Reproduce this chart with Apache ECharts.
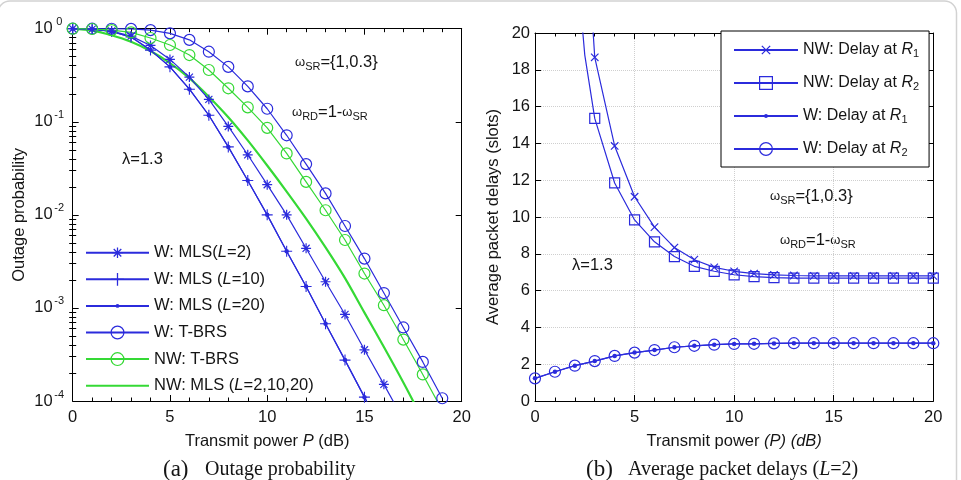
<!DOCTYPE html>
<html>
<head>
<meta charset="UTF-8" />
<title>outage probability / packet delays</title>
<script src="https://cdn.jsdelivr.net/npm/echarts@6.0.0/dist/echarts.min.js"></script>
<style>html,body{margin:0;padding:0;background:#fff;}</style>
</head>
<body>
<div id="main" style="width:961px;height:480px;"></div>
<script>
// transmit power P (dB)
var powerDb = [0,1,2,3,4,5,6,7,8,9,10,11,12,13,14,15,16,17,18,19,20];

// (a) outage probability (index = dB)
var wMls2  = [1, 0.989, 0.944, 0.832, 0.661, 0.468, 0.302, 0.174, 0.0891, 0.0442, 0.0211, 0.0100, 0.00437, 0.00191, 0.000851, 0.000355, 0.000151, 0.000063];
var wMls10 = [1, 0.989, 0.933, 0.813, 0.589, 0.389, 0.224, 0.1175, 0.0537, 0.0234, 0.0100, 0.00407, 0.00170, 0.000676, 0.000275, 0.000110, 0.000044];
var wMls20 = [1, 0.989, 0.933, 0.813, 0.589, 0.389, 0.224, 0.1175, 0.0537, 0.0234, 0.0100, 0.00407, 0.00170, 0.000676, 0.000275, 0.000110, 0.000044];
var wTbrs  = [1, 1, 0.999, 0.995, 0.966, 0.891, 0.759, 0.566, 0.389, 0.240, 0.138, 0.0716, 0.0351, 0.0170, 0.00759, 0.00339, 0.001445, 0.000617, 0.000263, 0.000107];
var nwTbrs = [1, 0.993, 0.966, 0.912, 0.794, 0.668, 0.521, 0.360, 0.229, 0.143, 0.0861, 0.0457, 0.0226, 0.0112, 0.00537, 0.00234, 0.00107, 0.000457, 0.000193, 0.000079];
var nwMls  = [1, 0.955, 0.851, 0.724, 0.575, 0.427, 0.295, 0.186, 0.112, 0.0631, 0.0339, 0.0178, 0.00912, 0.00447, 0.00209, 0.000891, 0.000380, 0.000158, 0.000063];

// (b) average packet delays (slots)
var nwDelayPower = [2, 2.5, 3,4,5,6,7,8,9,10,11,12,13,14,15,16,17,18,19,20];
var nwR1 = [40, 27, 18.68, 13.86, 11.1, 9.45, 8.34, 7.68, 7.26, 7.05, 6.92, 6.85, 6.82, 6.8, 6.8, 6.8, 6.8, 6.8, 6.8, 6.8];
var nwR2 = [25, 18.8, 15.36, 11.85, 9.84, 8.65, 7.85, 7.32, 7.05, 6.86, 6.76, 6.7, 6.68, 6.68, 6.68, 6.68, 6.68, 6.68, 6.68, 6.68];
var wR1 = [1.23, 1.59, 1.92, 2.17, 2.45, 2.63, 2.77, 2.92, 3.0, 3.06, 3.1, 3.11, 3.13, 3.14, 3.14, 3.14, 3.14, 3.14, 3.14, 3.14, 3.14];
var wR2 = [1.23, 1.59, 1.92, 2.17, 2.45, 2.63, 2.77, 2.92, 3.0, 3.06, 3.1, 3.11, 3.13, 3.14, 3.14, 3.14, 3.14, 3.14, 3.14, 3.14, 3.14];

var leftNames = ['W: MLS(L=2)', 'W: MLS (L=10)', 'W: MLS (L=20)', 'W: T-BRS', 'NW: T-BRS', 'NW: MLS (L=2,10,20)'];
var rightNames = ['NW: Delay at R1', 'NW: Delay at R2', 'W: Delay at R1', 'W: Delay at R2'];

var SANS = '"Liberation Sans", Arial, sans-serif';
var SERIF = '"Liberation Serif", "Times New Roman", serif';
var BLUE = '#2b2bdc';
var GREEN = '#35d935';
var INK = '#151515';

// marker shapes (matlab-ish); "M0 0M20 20" keeps the box so the mark can be smaller than it
var STAR = 'path://M0 0M20 20M9 1.7H11V18.3H9ZM1.7 9H18.3V11H1.7ZM4.81 3.39L16.61 15.19L15.19 16.61L3.39 4.81ZM16.61 4.81L4.81 16.61L3.39 15.19L15.19 3.39Z';
var PLUS = 'path://M9 0H11V9H20V11H11V20H9V11H0V9H9Z';
var DOT = 'path://M0 0M20 20M13 10A3 3 0 1 1 7 10A3 3 0 1 1 13 10Z';
var CROSS = 'path://M0 0M20 20M4.21 2.79L17.21 15.79L15.79 17.21L2.79 4.21ZM17.21 4.21L4.21 17.21L2.79 15.79L15.79 2.79Z';

function pairs(xs, ys, lo, hi) {
    return ys.map(function (y, i) {
        var item = {value: [xs[i], y]};
        if (y < lo || y > hi || xs[i] % 1 !== 0) item.symbol = 'none';
        return item;
    });
}

// minor ticks of the log axis: 2..9 x 10^k
var logMinor = [];
for (var k = -4; k < 0; k++) {
    for (var m = 2; m <= 9; m++) logMinor.push(m * Math.pow(10, k));
}

var tickStyle = {lineStyle: {color: '#000', width: 1}};
function boxLine() { return {show: true, onZero: false, lineStyle: {color: '#000', width: 1}}; }

function xAx(grid, pos, labels, name) {
    return {
        type: 'value', gridIndex: grid, position: pos, min: 0, max: 20, interval: 5,
        axisLine: boxLine(),
        axisTick: {show: true, inside: true, length: 6, lineStyle: tickStyle.lineStyle},
        minorTick: {show: true, splitNumber: 5, length: 3.5, lineStyle: {color: '#000', width: 1}},
        axisLabel: {show: labels, margin: 8, color: INK, fontSize: 16.5, fontFamily: SANS},
        splitLine: {show: grid === 1 && labels, lineStyle: {color: '#cfcfcf', type: 'dotted'}},
        name: name || '', nameLocation: 'middle', nameGap: 31.5,
        nameTextStyle: {color: INK, fontSize: 16.5, fontFamily: SANS,
            rich: {i: {fontStyle: 'italic', fontSize: 16.5, fontFamily: SANS, color: INK}}}
    };
}

function logAx(pos, labels, minor) {
    return {
        type: 'log', logBase: 10, gridIndex: 0, position: pos, min: 1e-4, max: 1,
        axisLine: minor ? {show: false} : boxLine(),
        axisTick: minor
            ? {show: true, inside: true, length: 3.5, customValues: logMinor, lineStyle: tickStyle.lineStyle}
            : {show: true, inside: true, length: 6, lineStyle: tickStyle.lineStyle},
        axisLabel: {
            show: labels, margin: 7,
            formatter: function (v) {
                var e = Math.round(Math.log(v) / Math.LN10);
                return '{b|10}{s|' + e + '}';
            },
            rich: {
                b: {fontSize: 16.5, fontFamily: SANS, color: INK, lineHeight: 24, verticalAlign: 'middle'},
                s: {fontSize: 11, fontFamily: SANS, color: INK, lineHeight: 10, verticalAlign: 'top', width: 13, align: 'left'}
            }
        },
        splitLine: {show: false},
        name: labels ? 'Outage probability' : '', nameLocation: 'middle', nameGap: 45,
        nameTextStyle: {color: INK, fontSize: 16.5, fontFamily: SANS}
    };
}

function delayAx(pos, labels) {
    return {
        type: 'value', gridIndex: 1, position: pos, min: 0, max: 20, interval: 2,
        axisLine: boxLine(),
        axisTick: {show: true, inside: true, length: 6, lineStyle: tickStyle.lineStyle},
        axisLabel: {show: labels, margin: 5, color: INK, fontSize: 16.5, fontFamily: SANS},
        splitLine: {show: labels, lineStyle: {color: '#cfcfcf', type: 'dotted'}},
        name: labels ? 'Average packet delays (slots)' : '', nameLocation: 'middle', nameGap: 33,
        nameTextStyle: {color: INK, fontSize: 16.5, fontFamily: SANS}
    };
}

function markSeries(name, data, xi, yi, symbol, size, color, open) {
    return {
        name: name, type: 'line', xAxisIndex: xi, yAxisIndex: yi, data: data,
        symbol: symbol, symbolSize: size, showSymbol: true, clip: true,
        lineStyle: {color: color, width: 1.2},
        itemStyle: open
            ? {color: 'rgba(0,0,0,0)', borderColor: color, borderWidth: 1.2}
            : {color: color, borderWidth: 0},
        emphasis: {disabled: true}, z: 3
    };
}

function legendText(size, subShift) {
    return {
        color: INK, fontSize: size, fontFamily: SANS, lineHeight: 18,
        rich: {
            i: {fontStyle: 'italic', fontSize: size, fontFamily: SANS, color: INK, lineHeight: 18},
            s: {fontSize: 11, fontFamily: SANS, color: INK, lineHeight: subShift, verticalAlign: 'bottom'}
        }
    };
}

var omegaRich = {
    w: {fontSize: 13, fontFamily: SANS, fill: INK, lineHeight: 20},
    sub: {fontSize: 11, fontFamily: SANS, fill: INK, lineHeight: 2, verticalAlign: 'bottom'},
    n: {fontSize: 16.5, fontFamily: SANS, fill: INK, lineHeight: 20}
};
function note(x, y, text) {
    return {type: 'text', x: x, y: y, silent: true,
        style: {text: text, rich: omegaRich, fontSize: 16.5, fontFamily: SANS, fill: INK, verticalAlign: 'middle', align: 'left'}};
}
function caption(x, y, text, size) {
    return {type: 'text', x: x, y: y, silent: true,
        style: {text: text, fontSize: size, fontFamily: SERIF, fill: INK, verticalAlign: 'middle', align: 'left',
            rich: {i: {fontStyle: 'italic', fontSize: size, fontFamily: SERIF, fill: INK}}}};
}

var chart = echarts.init(document.getElementById('main'), null, {renderer: 'canvas'});

var option = {
    backgroundColor: '#fff',
    animation: false,
    grid: [
        {left: 72.7, top: 28.7, width: 389, height: 372.3, containLabel: false, outerBoundsMode: 'none'},
        {left: 535, top: 33, width: 398.3, height: 368, containLabel: false, outerBoundsMode: 'none'}
    ],
    xAxis: [
        xAx(0, 'bottom', true, 'Transmit power {i|P} (dB)'),
        xAx(0, 'top', false),
        xAx(1, 'bottom', true, 'Transmit power {i|(P) (dB)}'),
        xAx(1, 'top', false)
    ],
    yAxis: [
        logAx('left', true, false),
        logAx('right', false, false),
        logAx('left', false, true),
        logAx('right', false, true),
        delayAx('left', true),
        delayAx('right', false)
    ],
    legend: [
        {
            data: leftNames.map(function (n, i) {
                return i === 5 ? {name: n, itemStyle: {opacity: 0}} : {name: n};
            }),
            orient: 'vertical', left: 85, top: 243.7, padding: 0,
            itemWidth: 63, itemHeight: 16, itemGap: 8.6,
            itemStyle: {borderWidth: 1.2}, selectedMode: false,
            textStyle: legendText(16.5, 1),
            formatter: function (n) { return n.replace('L=', '{i|L}='); }
        },
        {
            data: rightNames,
            orient: 'vertical', left: 721, top: 31, padding: [10, 10, 9, 12],
            itemWidth: 64, itemHeight: 16, itemGap: 15,
            backgroundColor: '#fff', borderColor: '#000', borderWidth: 1,
            itemStyle: {borderWidth: 1.2}, selectedMode: false,
            textStyle: legendText(16, 1),
            formatter: function (n) { return n.replace(/R(\d)$/, '{i|R}{s|$1}'); }
        }
    ],
    series: [
        markSeries(leftNames[0], pairs(powerDb, wMls2, 1e-4, 1), 0, 0, STAR, 12, BLUE, false),
        markSeries(leftNames[1], pairs(powerDb, wMls10, 1e-4, 1), 0, 0, PLUS, 11, BLUE, false),
        markSeries(leftNames[2], pairs(powerDb, wMls20, 1e-4, 1), 0, 0, DOT, 15, BLUE, false),
        markSeries(leftNames[3], pairs(powerDb, wTbrs, 1e-4, 1), 0, 0, 'circle', 11, BLUE, true),
        markSeries(leftNames[4], pairs(powerDb, nwTbrs, 1e-4, 1), 0, 0, 'circle', 11, GREEN, true),
        {
            name: leftNames[5], type: 'line', xAxisIndex: 0, yAxisIndex: 0,
            data: pairs(powerDb, nwMls, 1e-4, 1), symbol: 'none', smooth: 0.3, clip: true,
            lineStyle: {color: GREEN, width: 2.2}, itemStyle: {color: GREEN},
            emphasis: {disabled: true}, z: 2
        },
        markSeries(rightNames[0], pairs(nwDelayPower, nwR1, 0, 20), 2, 4, CROSS, 11.5, BLUE, false),
        markSeries(rightNames[1], pairs(nwDelayPower, nwR2, 0, 20), 2, 4, 'rect', 10, BLUE, true),
        markSeries(rightNames[2], pairs(powerDb, wR1, 0, 20), 2, 4, DOT, 15, BLUE, false),
        markSeries(rightNames[3], pairs(powerDb, wR2, 0, 20), 2, 4, 'circle', 11, BLUE, true)
    ],
    graphic: [
        {type: 'rect', silent: true, z: -10,
            shape: {x: -2, y: 1, width: 958.5, height: 520, r: 12},
            style: {fill: 'none', stroke: '#d2d2d2', lineWidth: 1.5}},
        note(295, 62.5, '{w|ω}{sub|SR}{n|={1,0.3}}'),
        note(292, 112, '{w|ω}{sub|RD}{n|=1-}{w|ω}{sub|SR}'),
        note(122, 159.5, '{n|λ=1.3}'),
        note(770, 196, '{w|ω}{sub|SR}{n|={1,0.3}}'),
        note(780, 240, '{w|ω}{sub|RD}{n|=1-}{w|ω}{sub|SR}'),
        note(572, 265, '{n|λ=1.3}'),
        caption(163, 469.5, '(a)', 23),
        caption(205, 470, 'Outage probability', 20),
        caption(586, 469.5, '(b)', 23),
        caption(628, 470, 'Average packet delays ({i|L}=2)', 20)
    ]
};

chart.setOption(option);
// extend the series' line to the legend swatch of the clipped symbol-less line
</script>
</body>
</html>
